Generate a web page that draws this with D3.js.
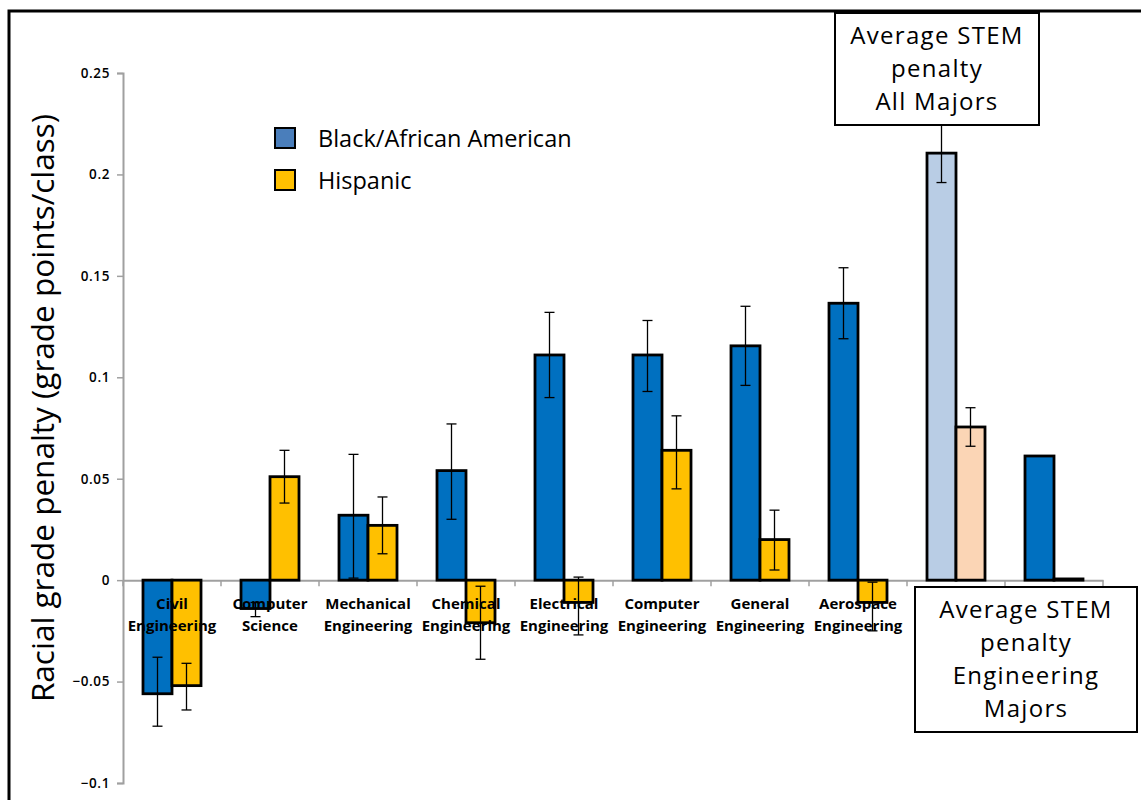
<!DOCTYPE html>
<html>
<head>
<meta charset="utf-8">
<script src="https://cdn.jsdelivr.net/npm/d3@7"></script>
<style>
  body { margin: 0; background: #fff; }
  svg { display: block; }
  text { font-family: "Open Sans", Lato, sans-serif; fill: #000; }
</style>
</head>
<body>
<div id="chart"></div>
<script>
// categories (two text lines each; the last two are labelled by the boxes)
const categories = [
  ["Civil", "Engineering"], ["Computer", "Science"], ["Mechanical", "Engineering"],
  ["Chemical", "Engineering"], ["Electrical", "Engineering"], ["Computer", "Engineering"],
  ["General", "Engineering"], ["Aerospace", "Engineering"], ["", ""], ["", ""]
];
const seriesNames = ["Black/African American", "Hispanic"];
const blackValues   = [-0.056, -0.014, 0.032, 0.054, 0.111, 0.111, 0.1155, 0.1365, 0.2105, 0.0612];
const blackErrLow   = [-0.072, -0.018, 0.001, 0.030, 0.090, 0.093, 0.096, 0.119, 0.196, null];
const blackErrHigh  = [-0.038, -0.011, 0.062, 0.077, 0.132, 0.128, 0.135, 0.154, 0.225, null];
const hispValues    = [-0.052, 0.051, 0.027, -0.021, -0.011, 0.064, 0.020, -0.011, 0.0755, 0.0006];
const hispErrLow    = [-0.064, 0.038, 0.013, -0.039, -0.027, 0.045, 0.005, -0.025, 0.066, null];
const hispErrHigh   = [-0.041, 0.064, 0.041, -0.003, 0.0015, 0.081, 0.0345, -0.001, 0.085, null];
const yTicks = [-0.1, -0.05, 0, 0.05, 0.1, 0.15, 0.2, 0.25];
const boxAll = ["Average STEM", "penalty", "All Majors"];
const boxEng = ["Average STEM", "penalty", "Engineering", "Majors"];

const width = 1141, height = 800;
const svg = d3.select('#chart').append('svg')
  .attr('width', width).attr('height', height);

// outer frame
svg.append('rect')
  .attr('x', 9).attr('y', 11).attr('width', 1150).attr('height', 810)
  .attr('fill', 'none').attr('stroke', '#000').attr('stroke-width', 3);

// scales
let y = d3.scaleLinear().domain([-0.1, 0.25]).range([783, 73]);
let x = d3.scaleBand().domain(d3.range(categories.length)).range([123, 1103]).padding(0);
let xs = d3.scaleBand().domain([0, 1]).range([20, 78]);

// y axis
let yAxis = svg.append('g').attr('transform', 'translate(123,0)')
  .call(d3.axisLeft(y).tickValues(yTicks).tickSize(6).tickFormat(d => d3.format('')(+d.toFixed(2))));
yAxis.select('.domain').attr('stroke', '#a0a0a0').attr('stroke-width', 2);
yAxis.selectAll('.tick line').attr('stroke', '#a0a0a0').attr('stroke-width', 1.5);
yAxis.selectAll('.tick text').attr('x', -13)
  .style('font-size', '13.5px').style('font-weight', '600').style('letter-spacing', '0.6px')
  .style('font-family', '"Open Sans", sans-serif');

// y title
svg.append('text')
  .attr('transform', 'translate(54,408) rotate(-90)')
  .attr('text-anchor', 'middle')
  .style('font-size', '31.5px')
  .text('Racial grade penalty (grade points/class)');

// bars
const data = [];
categories.forEach((c, i) => {
  data.push({ i, s: 0, v: blackValues[i], lo: blackErrLow[i], hi: blackErrHigh[i] });
  data.push({ i, s: 1, v: hispValues[i], lo: hispErrLow[i], hi: hispErrHigh[i] });
});
function fillOf(d) {
  if (d.i === 8) return d.s === 0 ? '#b9cde5' : '#fbd5b5';
  return d.s === 0 ? '#0070c0' : '#ffc000';
}

// x axis line and tick marks at category boundaries
let xAxis = svg.append('g').attr('transform', 'translate(0,' + y(0) + ')')
  .call(d3.axisBottom(x).tickSize(0).tickFormat(''));
xAxis.select('.domain').attr('stroke', '#a0a0a0').attr('stroke-width', 2);
svg.append('g').selectAll('line')
  .data(d3.range(categories.length + 1))
  .enter().append('line')
  .attr('x1', d => 123 + d * x.step()).attr('x2', d => 123 + d * x.step())
  .attr('y1', y(0)).attr('y2', y(0) + 6)
  .attr('stroke', '#a0a0a0').attr('stroke-width', 1.5);

svg.append('g').selectAll('rect')
  .data(data).enter().append('rect')
  .attr('x', d => x(d.i) + xs(d.s))
  .attr('y', d => y(Math.max(0, d.v)))
  .attr('width', xs.bandwidth())
  .attr('height', d => Math.abs(y(d.v) - y(0)))
  .attr('fill', fillOf)
  .attr('stroke', '#000').attr('stroke-width', 2.8);

// category labels (drawn over the bars)
let lab = svg.append('g').selectAll('text')
  .data(categories).enter().append('text')
  .attr('text-anchor', 'middle')
  .style('font-size', '15px').style('font-weight', 'bold');
lab.append('tspan').attr('x', (d, i) => x(i) + x.bandwidth() / 2).attr('y', 609).text(d => d[0]);
lab.append('tspan').attr('x', (d, i) => x(i) + x.bandwidth() / 2).attr('y', 631).text(d => d[1]);

// error bars
const err = svg.append('g').selectAll('g')
  .data(data.filter(d => d.lo !== null)).enter().append('g')
  .attr('stroke', '#000').attr('stroke-width', 1.3);
const cx = d => x(d.i) + xs(d.s) + xs.bandwidth() / 2;
err.append('line').attr('x1', cx).attr('x2', cx).attr('y1', d => y(d.lo)).attr('y2', d => y(d.hi));
err.append('line').attr('x1', d => cx(d) - 5).attr('x2', d => cx(d) + 5).attr('y1', d => y(d.lo)).attr('y2', d => y(d.lo));
err.append('line').attr('x1', d => cx(d) - 5).attr('x2', d => cx(d) + 5).attr('y1', d => y(d.hi)).attr('y2', d => y(d.hi));

// legend
const leg = svg.append('g').selectAll('g')
  .data(seriesNames).enter().append('g')
  .attr('transform', (d, i) => 'translate(275,' + (128 + i * 42) + ')');
leg.append('rect').attr('width', 20).attr('height', 20)
  .attr('fill', (d, i) => i === 0 ? '#4a7ebb' : '#ffc000')
  .attr('stroke', '#000').attr('stroke-width', 2);
leg.append('text').attr('x', 43).attr('y', 19)
  .style('font-size', '23.5px').text(d => d);

// annotation boxes
function box(x0, y0, w, h, lines, firstBase, step) {
  const g = svg.append('g');
  g.append('rect').attr('x', x0).attr('y', y0).attr('width', w).attr('height', h)
    .attr('fill', '#fff').attr('stroke', '#000').attr('stroke-width', 2);
  g.selectAll('text').data(lines).enter().append('text')
    .attr('x', x0 + w / 2).attr('y', (d, i) => firstBase + i * step)
    .attr('text-anchor', 'middle')
    .style('font-size', '24px').style('letter-spacing', '1.3px').text(d => d);
}
box(835, 13, 204, 112, boxAll, 44, 33);
box(915, 587, 222, 145, boxEng, 618, 33);
</script>
</body>
</html>
